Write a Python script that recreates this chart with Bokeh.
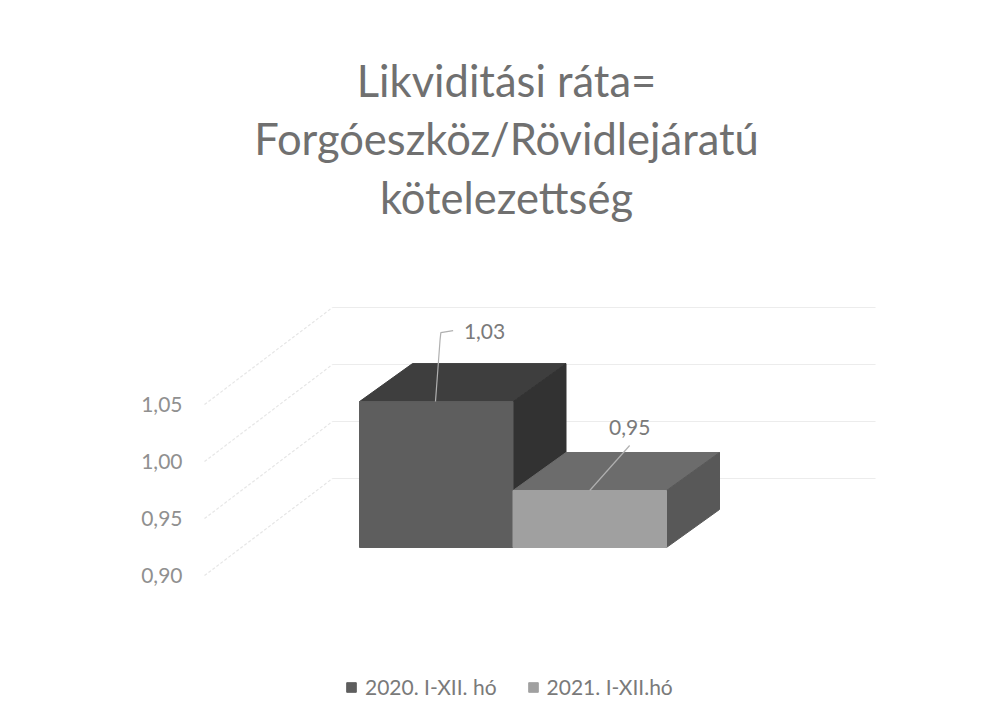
from bokeh.plotting import figure
from bokeh.embed import file_html
from bokeh.resources import INLINE
from bokeh.models import Legend, LegendItem, FixedTicker, CustomJSTickFormatter, Range1d

title_lines = ["Likviditási ráta=", "Forgóeszköz/Rövidlejáratú", "kötelezettség"]
series = ["2020. I-XII. hó", "2021. I-XII.hó"]
values = [1.028, 0.95]
axis_ticks = [0.90, 0.95, 1.00, 1.05]
front_colors = ["#5e5e5e", "#a0a0a0"]
top_colors = ["#3e3e3e", "#6c6c6c"]
side_colors = ["#323232", "#585858"]

FONT = "Lato"
TEXT = "#7a7a7a"
WIDTH, HEIGHT = 973, 706
FL, FR, FT, FB = 194, 880, 0, 706     # frame edges in page pixels
PX_X = 153.5                          # pixels per category
PX_Y = 1140.0                         # pixels per value unit
BAR0_LEFT = 359
AXIS_BASE = 575                       # page y of 0,90 on the axis plane
WALL_DX, WALL_DY = 128 / PX_X, 97 / PX_Y
BASE = 0.90
BAR_LIFT = 28 / PX_Y
BAR_DX, BAR_DY = 53 / PX_X, 38 / PX_Y


def px(x):
    return (x - BAR0_LEFT) / PX_X


def py(y):
    return BASE + (AXIS_BASE - y) / PX_Y


WALL_X0 = px(204)
WALL_X1 = px(875)

p = figure(width=WIDTH, height=HEIGHT, output_backend="svg", toolbar_location=None,
           x_range=Range1d(px(FL), px(FR)), y_range=Range1d(py(FB), py(FT)),
           min_border_left=FL, min_border_right=WIDTH - FR,
           min_border_top=0, min_border_bottom=0,
           outline_line_color=None, background_fill_color="white", border_fill_color="white")
p.xaxis.visible = False
p.xgrid.visible = False
p.ygrid.visible = False

yaxis = p.yaxis[0]
yaxis.ticker = FixedTicker(ticks=axis_ticks)
yaxis.formatter = CustomJSTickFormatter(code="return tick.toFixed(2).replace('.', ',')")
yaxis.axis_line_color = None
yaxis.major_tick_line_color = None
yaxis.minor_tick_line_color = None
yaxis.major_label_text_font = FONT
yaxis.major_label_text_font_size = "21px"
yaxis.major_label_text_color = "#909090"
yaxis.major_label_standoff = 6

# wall gridlines and the floor-depth lines
for t in axis_ticks:
    p.line([WALL_X0, WALL_X0 + WALL_DX], [t, t + WALL_DY],
           line_color="#e6e6e6", line_width=1.2, line_dash="3 2")
    p.line([WALL_X0 + WALL_DX, WALL_X1], [t + WALL_DY, t + WALL_DY],
           line_color="#ececec", line_width=1.2)

# 3-D boxes
legend_items = []
for i, (v, name) in enumerate(zip(values, series)):
    b = BASE + BAR_LIFT
    t = v + BAR_LIFT
    x0, x1 = i, i + 1
    p.patch([x0, x1, x1 + BAR_DX, x0 + BAR_DX], [t, t, t + BAR_DY, t + BAR_DY],
            fill_color=top_colors[i], line_color=top_colors[i])
    p.patch([x1, x1 + BAR_DX, x1 + BAR_DX, x1], [b, b + BAR_DY, t + BAR_DY, t],
            fill_color=side_colors[i], line_color=side_colors[i])
    r = p.quad(left=x0, right=x1, bottom=b, top=t,
               fill_color=front_colors[i], line_color=front_colors[i])
    legend_items.append(LegendItem(label=name, renderers=[r]))

# data labels and leaders
lab = [f"{v:.2f}".replace(".", ",") for v in values]
t0 = values[0] + BAR_LIFT
t1 = values[1] + BAR_LIFT
p.line([0.495, 0.525, 0.53, 0.61],
       [t0, t0 + 62 / PX_Y, t0 + 69 / PX_Y, t0 + 71 / PX_Y], line_color="#b0b0b0", line_width=1.2)
p.line([1.5, 1.76], [t1, t1 + 45 / PX_Y], line_color="#b0b0b0", line_width=1.2)
p.text([0.68], [t0 + 70 / PX_Y], text=[lab[0]], text_baseline="middle", text_align="left",
       text_font={"value": FONT}, text_font_size={"value": "21px"}, text_color=TEXT)
p.text([1.76], [t1 + 63 / PX_Y], text=[lab[1]], text_baseline="middle", text_align="center",
       text_font={"value": FONT}, text_font_size={"value": "21px"}, text_color=TEXT)

# title as three centred lines
for line, y in zip(title_lines, [79, 137, 196]):
    p.text([px(506)], [py(y)], text=[line], text_baseline="alphabetic", text_align="center",
           text_font={"value": FONT}, text_font_size={"value": "43.5px"}, text_color="#707070")

legend = Legend(items=legend_items, orientation="horizontal",
                location=(345 - FL, FB - 699),
                border_line_color=None, background_fill_alpha=0,
                label_text_font=FONT, label_text_font_size="21px", label_text_color=TEXT,
                glyph_width=12, glyph_height=12, label_standoff=8, spacing=30, margin=0, padding=0)
p.add_layout(legend, "center")

open("out.html", "w").write(file_html(p, INLINE))
